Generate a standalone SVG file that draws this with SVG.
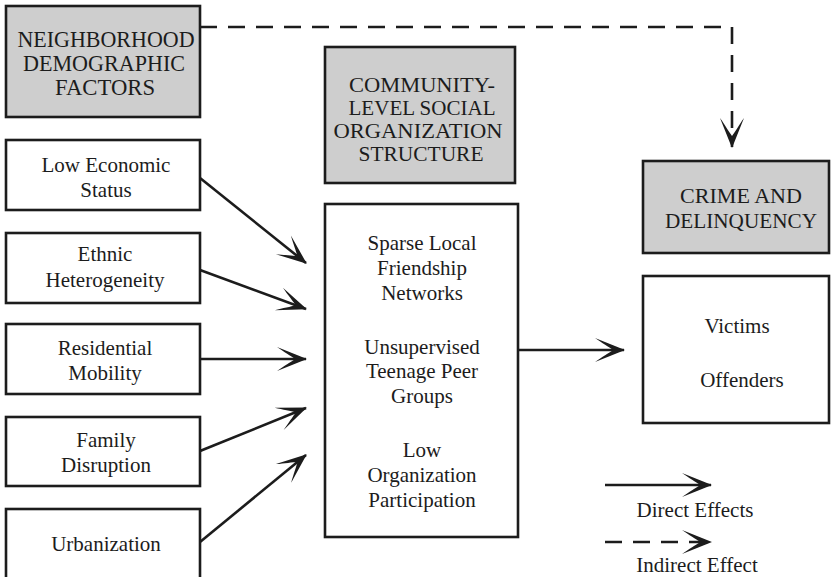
<svg xmlns="http://www.w3.org/2000/svg" width="831" height="577" viewBox="0 0 831 577">
<style>
.box{fill:#fff;stroke:#1c1c1c;stroke-width:2.6}
.gbox{fill:#cecece;stroke:#1c1c1c;stroke-width:2.6}
text{font-family:"Liberation Serif","Times New Roman",serif;fill:#1c1c1c;text-anchor:middle}
.t{font-size:21px}
.h{font-size:24px}
.h2{font-size:22px}
.h3{font-size:20.5px}
.c{stroke:#1c1c1c;stroke-width:2.6;fill:none}
.d{stroke-dasharray:17 11}
</style>
<defs>
<marker id="ah" markerUnits="userSpaceOnUse" markerWidth="40" markerHeight="30" viewBox="-32 -15 36 30" refX="0" refY="0" orient="auto">
<path d="M1,0 L-29,-12 C-22,-7 -15,-3 -11,0 C-15,3 -22,7 -29,12 Z" fill="#1c1c1c"/>
</marker>
</defs>
<rect width="831" height="577" fill="#fff"/>
<g id="connectors">
<path class="c d" d="M200,27 H732 V147" marker-end="url(#ah)"/>
<path class="c" d="M200,178 L306,263" marker-end="url(#ah)"/>
<path class="c" d="M200,270 L306,309" marker-end="url(#ah)"/>
<path class="c" d="M200,359 L306,359" marker-end="url(#ah)"/>
<path class="c" d="M200,451 L306,408" marker-end="url(#ah)"/>
<path class="c" d="M200,542 L306,455" marker-end="url(#ah)"/>
<path class="c" d="M518,350 L624,350" marker-end="url(#ah)"/>
</g>
<g id="neighborhood">
<rect class="gbox" x="6" y="6" width="194" height="111"/>
<text class="h" x="106" y="47" textLength="177" lengthAdjust="spacingAndGlyphs">NEIGHBORHOOD</text>
<text class="h" x="104" y="71" textLength="162" lengthAdjust="spacingAndGlyphs">DEMOGRAPHIC</text>
<text class="h" x="105" y="95" textLength="100" lengthAdjust="spacingAndGlyphs">FACTORS</text>
</g>
<g id="low-economic-status">
<rect class="box" x="6" y="140" width="194" height="70"/>
<text class="t" x="106" y="172">Low Economic</text>
<text class="t" x="106" y="197">Status</text>
</g>
<g id="ethnic-heterogeneity">
<rect class="box" x="6" y="233" width="194" height="70"/>
<text class="t" x="105" y="261">Ethnic</text>
<text class="t" x="105" y="287">Heterogeneity</text>
</g>
<g id="residential-mobility">
<rect class="box" x="6" y="324" width="194" height="70"/>
<text class="t" x="105" y="355">Residential</text>
<text class="t" x="105" y="380">Mobility</text>
</g>
<g id="family-disruption">
<rect class="box" x="6" y="417" width="194" height="69"/>
<text class="t" x="106" y="447">Family</text>
<text class="t" x="106" y="472">Disruption</text>
</g>
<g id="urbanization">
<rect class="box" x="6" y="509" width="194" height="72"/>
<text class="t" x="106" y="551">Urbanization</text>
</g>
<g id="community-header">
<rect class="gbox" x="325" y="47" width="190" height="136"/>
<text class="h3" x="422" y="92" textLength="146" lengthAdjust="spacingAndGlyphs">COMMUNITY-</text>
<text class="h3" x="422" y="115" textLength="147" lengthAdjust="spacingAndGlyphs">LEVEL SOCIAL</text>
<text class="h3" x="418" y="138" textLength="169" lengthAdjust="spacingAndGlyphs">ORGANIZATION</text>
<text class="h3" x="421" y="161" textLength="125" lengthAdjust="spacingAndGlyphs">STRUCTURE</text>
</g>
<g id="community-factors">
<rect class="box" x="325" y="204" width="193" height="333"/>
<text class="t" x="422" y="250">Sparse Local</text>
<text class="t" x="422" y="275">Friendship</text>
<text class="t" x="422" y="300">Networks</text>
<text class="t" x="422" y="354">Unsupervised</text>
<text class="t" x="422" y="378">Teenage Peer</text>
<text class="t" x="422" y="403">Groups</text>
<text class="t" x="422" y="457">Low</text>
<text class="t" x="422" y="482">Organization</text>
<text class="t" x="422" y="507">Participation</text>
</g>
<g id="crime-header">
<rect class="gbox" x="643" y="161" width="186" height="92"/>
<text class="h2" x="741" y="203" textLength="122" lengthAdjust="spacingAndGlyphs">CRIME AND</text>
<text class="h2" x="741" y="228" textLength="152" lengthAdjust="spacingAndGlyphs">DELINQUENCY</text>
</g>
<g id="crime-outcomes">
<rect class="box" x="643" y="276" width="186" height="147"/>
<text class="t" x="737" y="333">Victims</text>
<text class="t" x="742" y="387">Offenders</text>
</g>
<g id="legend">
<path class="c" d="M605,485 L711,485" marker-end="url(#ah)"/>
<text class="t" x="695" y="517">Direct Effects</text>
<path class="c d" d="M605,542 L711,542" marker-end="url(#ah)"/>
<text class="t" x="697" y="572">Indirect Effect</text>
</g>
</svg>
